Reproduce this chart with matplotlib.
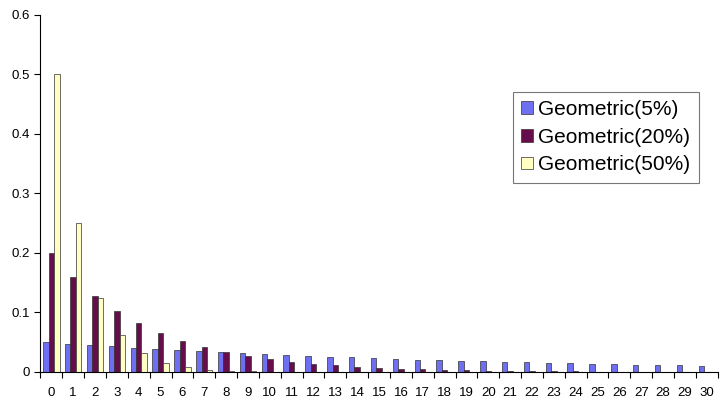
import matplotlib
matplotlib.use("Agg")
import matplotlib.pyplot as plt
import numpy as np
from matplotlib.ticker import FixedLocator, FuncFormatter

plt.rcParams["font.family"] = ["Liberation Sans", "DejaVu Sans"]

trials = list(range(31))
geo5 = [0.0500, 0.0475, 0.0451, 0.0429, 0.0407, 0.0387, 0.0368, 0.0349, 0.0332, 0.0315,
        0.0299, 0.0284, 0.0270, 0.0257, 0.0244, 0.0232, 0.0220, 0.0209, 0.0199, 0.0189,
        0.0179, 0.0170, 0.0162, 0.0154, 0.0146, 0.0139, 0.0132, 0.0125, 0.0119, 0.0113,
        0.0107]
geo20 = [0.2000, 0.1600, 0.1280, 0.1024, 0.0819, 0.0655, 0.0524, 0.0419, 0.0336, 0.0268,
         0.0215, 0.0172, 0.0137, 0.0110, 0.0088, 0.0070, 0.0056, 0.0045, 0.0036, 0.0029,
         0.0023, 0.0018, 0.0015, 0.0012, 0.0009, 0.0008, 0.0006, 0.0005, 0.0004, 0.0003,
         0.0002]
geo50 = [0.5000, 0.2500, 0.1250, 0.0625, 0.0313, 0.0156, 0.0078, 0.0039, 0.0020, 0.0010,
         0.0005, 0.0002, 0.0001, 0.0001, 0.0, 0.0, 0.0, 0.0, 0.0, 0.0,
         0.0, 0.0, 0.0, 0.0, 0.0, 0.0, 0.0, 0.0, 0.0, 0.0,
         0.0]
labels = ["Geometric(5%)", "Geometric(20%)", "Geometric(50%)"]
colors = ["#6f6ff2", "#660e4c", "#ffffc4"]

fig = plt.figure(figsize=(7.22, 4.0), dpi=100)
ax = fig.add_axes([0.056, 0.07, 0.938, 0.893])

x = np.arange(len(trials))
w = 0.25
for i, (vals, lab, c) in enumerate(zip([geo5, geo20, geo50], labels, colors)):
    ax.bar(x + (i - 1) * w, vals, w, color=c, edgecolor="#333333",
           linewidth=0.5, label=lab)

ax.set_xlim(-0.5, len(trials) - 0.5)
ax.set_ylim(0, 0.6)
ax.set_yticks(np.arange(0, 0.61, 0.1))
ax.yaxis.set_major_formatter(FuncFormatter(lambda v, p: "0" if v == 0 else f"{v:.1f}"))
ax.set_xticks(x)
ax.set_xticklabels([str(t) for t in trials], fontsize=9.5)
ax.tick_params(axis="x", which="major", length=0, pad=11)
ax.xaxis.set_minor_locator(FixedLocator(np.arange(-0.5, len(trials), 1.0)))
ax.tick_params(axis="x", which="minor", length=4, width=0.8, direction="out")
ax.tick_params(axis="y", labelsize=9.5, length=4, width=0.8)

for s in ["top", "right"]:
    ax.spines[s].set_visible(False)
for s in ["left", "bottom"]:
    ax.spines[s].set_linewidth(0.8)

leg = ax.legend(loc="upper left", bbox_to_anchor=(0.698, 0.785), fontsize=15,
                frameon=True, fancybox=False, handlelength=0.55, handleheight=0.55,
                handletextpad=0.25, borderpad=0.4, labelspacing=0.42,
                borderaxespad=0)
leg.get_frame().set_edgecolor("#555555")
leg.get_frame().set_linewidth(0.8)

fig.savefig("out.png", dpi=100)
